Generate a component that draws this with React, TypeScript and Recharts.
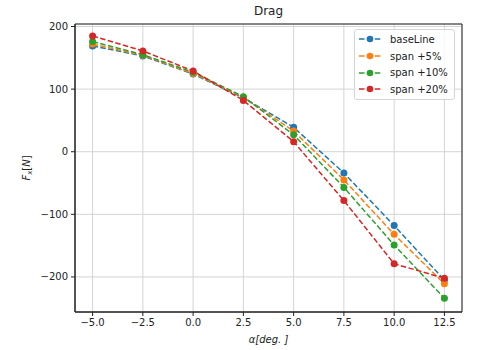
import React from "react";
import {
  LineChart,
  Line,
  XAxis,
  YAxis,
  CartesianGrid,
  ReferenceArea,
} from "recharts";

const alpha = [-5, -2.5, 0, 2.5, 5, 7.5, 10, 12.5];
const baseLine = [169, 153, 124, 86, 39, -34, -118, -205];
const span5 = [172, 154, 125, 87, 33, -45, -132, -211];
const span10 = [176, 155, 127, 88, 27, -57, -149, -234];
const span20 = [185, 161, 129, 82, 16, -78, -179, -202];

const xTicks = [-5, -2.5, 0, 2.5, 5, 7.5, 10, 12.5];
const yTicks = [-200, -100, 0, 100, 200];
const xDomain: [number, number] = [-5.875, 13.375];
const yDomain: [number, number] = [-256, 204];

const series = [
  { key: "baseLine", name: "baseLine", color: "#1f77b4" },
  { key: "span5", name: "span +5%", color: "#ff7f0e" },
  { key: "span10", name: "span +10%", color: "#2ca02c" },
  { key: "span20", name: "span +20%", color: "#d62728" },
];

const data = alpha.map((a, i) => ({
  alpha: a,
  baseLine: baseLine[i],
  span5: span5[i],
  span10: span10[i],
  span20: span20[i],
}));

const font = "'DejaVu Sans', sans-serif";
const minus = (s: string) => s.replace("-", "\u2212");

const LegendBox = () => (
  <div
    style={{
      position: "absolute",
      left: 354,
      top: 29,
      border: "1px solid #d5d5d5",
      borderRadius: 3,
      background: "rgba(255,255,255,0.8)",
      padding: "1px 6px 1px 3px",
      fontFamily: font,
      fontSize: 10,
      color: "#222",
    }}
  >
    {series.map((s) => (
      <div key={s.key} style={{ display: "flex", alignItems: "center", height: 16.7 }}>
        <svg width={24} height={10}>
          <line x1={1} y1={5} x2={23} y2={5} stroke={s.color} strokeWidth={1.5} strokeDasharray="5.5 2.4" />
          <circle cx={12} cy={5} r={3.3} fill={s.color} />
        </svg>
        <span style={{ marginLeft: 8 }}>{s.name}</span>
      </div>
    ))}
  </div>
);

export default function App() {
  return (
    <div style={{ position: "absolute", left: 0, top: 0, width: 479, height: 350, background: "#fff" }}>
      <div
        style={{
          position: "absolute",
          left: 75,
          width: 387,
          top: 4,
          textAlign: "center",
          fontFamily: font,
          fontSize: 12,
          color: "#222",
        }}
      >
        Drag
      </div>
      <LineChart width={479} height={350} data={data} margin={{ top: 24, right: 17, bottom: 0, left: 0 }}>
        <CartesianGrid stroke="#d4d4d4" strokeWidth={1} />
        <XAxis
          dataKey="alpha"
          type="number"
          domain={xDomain}
          ticks={xTicks}
          allowDataOverflow
          height={38}
          tickSize={4}
          tickMargin={3}
          stroke="#222"
          tick={{ fontSize: 10, fontFamily: font, fill: "#222" }}
          tickFormatter={(v: number) => minus(v.toFixed(1))}
          label={{
            content: (p: any) => {
              const vb = p.viewBox || {};
              return (
                <text
                  x={vb.x + vb.width / 2}
                  y={343}
                  textAnchor="middle"
                  fontFamily={font}
                  fontSize={10}
                  fontStyle="italic"
                  fill="#222"
                >
                  α[deg. ]
                </text>
              );
            },
          }}
        />
        <YAxis
          type="number"
          domain={yDomain}
          ticks={yTicks}
          allowDataOverflow
          width={75}
          tickSize={4}
          tickMargin={3}
          stroke="#222"
          tick={{ fontSize: 10, fontFamily: font, fill: "#222" }}
          tickFormatter={(v: number) => minus(String(v))}
          label={{
            content: (p: any) => {
              const vb = p.viewBox || {};
              const cy = vb.y + vb.height / 2;
              return (
                <text
                  transform={`translate(30, ${cy}) rotate(-90)`}
                  textAnchor="middle"
                  fontFamily={font}
                  fontSize={10}
                  fill="#222"
                >
                  <tspan fontStyle="italic">F</tspan>
                  <tspan fontStyle="italic" fontSize={7} dy={2}>x</tspan>
                  <tspan dy={-2}>[</tspan>
                  <tspan fontStyle="italic">N</tspan>
                  <tspan>]</tspan>
                </text>
              );
            },
          }}
        />
        <ReferenceArea
          x1={xDomain[0]}
          x2={xDomain[1]}
          y1={yDomain[0]}
          y2={yDomain[1]}
          fill="none"
          stroke="#222"
          strokeWidth={1}
          ifOverflow="visible"
        />
        {series.map((s) => (
          <Line
            key={s.key}
            dataKey={s.key}
            name={s.name}
            stroke={s.color}
            strokeWidth={1.5}
            strokeDasharray="5.5 2.4"
            dot={{ r: 3.5, fill: s.color, stroke: "none" }}
            activeDot={false}
            isAnimationActive={false}
          />
        ))}
      </LineChart>
      <LegendBox />
    </div>
  );
}
